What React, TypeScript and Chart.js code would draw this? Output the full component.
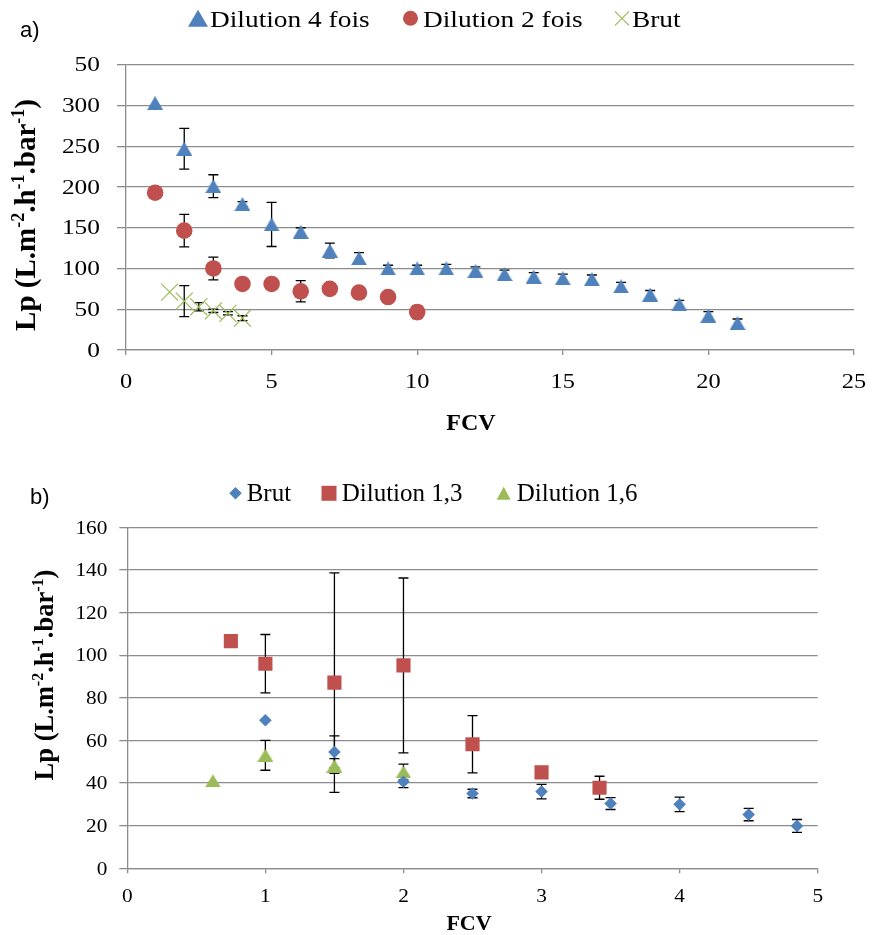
import React, { useEffect, useRef } from 'react';
import { Chart, registerables } from 'chart.js';

Chart.register(...registerables);

// ---------- colours ----------
const BLUE = '#4F81BD';
const RED = '#C0504D';
const GREEN = '#9BBB59';
const GRID = '#8C8C8C';
const SERIF = '"Liberation Serif", "Times New Roman", serif';
const SANS = '"Liberation Sans", Arial, sans-serif';

// ---------- panel a : Lp vs FCV ----------
const fcvD4 = [1, 2, 3, 4, 5, 6, 7, 8, 9, 10, 11, 12, 13, 14, 15, 16, 17, 18, 19, 20, 21];
const lpD4 = [303, 247, 201, 179, 154, 145, 122, 112.5, 100, 100, 100, 97, 93, 90, 88, 87, 78, 68, 56, 42, 33];
const errD4 = [0, 25, 14, 3, 27, 5, 9, 7, 4, 4, 5, 5, 5, 5, 5, 5, 5, 5, 5, 5, 5];

const fcvD2 = [1, 2, 3, 4, 5, 6, 7, 8, 9, 10];
const lpD2 = [193, 146.5, 100, 81, 81, 72, 75, 70.5, 65, 46.5];
const errD2 = [0, 20, 14, 0, 0, 13, 0, 0, 0, 8];

const fcvBrutA = [1.5, 2, 2.5, 3, 3.5, 4];
const lpBrutA = [71, 60, 53, 48, 45, 39];
const errBrutA = [0, 19, 5, 2, 2, 3];

const xTicksA = ['0', '5', '10', '15', '20', '25'];
const yTicksA = ['0', '50', '100', '150', '200', '250', '300', '50'];

// ---------- panel b : Lp vs FCV ----------
const fcvBrutB = [1, 1.5, 2, 2.5, 3, 3.5, 4, 4.5, 4.85];
const lpBrutB = [69.5, 54.6, 40.6, 35.1, 36, 30.4, 30, 25.2, 19.9];
const errBrutB = [0, 7.5, 2.7, 2, 3.4, 2.8, 3.4, 2.9, 3];

const fcvD13 = [0.75, 1, 1.5, 2, 2.5, 3, 3.42];
const lpD13 = [106.6, 96, 87.1, 95.2, 58.2, 45, 37.8];
const errD13 = [0, 13.7, 51.5, 41, 13.4, 0, 5.4];

const fcvD16 = [0.62, 1, 1.5, 2];
const lpD16 = [41, 53, 48, 45.2];
const errD16 = [0, 7, 3.5, 3.7];

const xTicksB = ['0', '1', '2', '3', '4', '5'];
const yTicksB = ['0', '20', '40', '60', '80', '100', '120', '140', '160'];

const pts = (xs: number[], ys: number[]) => xs.map((x, i) => ({ x, y: ys[i] }));

// ---------- small drawing helpers ----------
function stretchedText(ctx: CanvasRenderingContext2D, text: string, x: number, y: number,
  font: string, align: CanvasTextAlign, sx: number) {
  ctx.save();
  ctx.translate(x, y);
  ctx.scale(sx, 1);
  ctx.font = font;
  ctx.textAlign = align;
  ctx.textBaseline = 'alphabetic';
  ctx.fillStyle = '#000';
  ctx.fillText(text, 0, 0);
  ctx.restore();
}

function triangleImage(w: number, h: number, color: string) {
  const c = document.createElement('canvas');
  c.width = w;
  c.height = h;
  const g = c.getContext('2d')!;
  g.fillStyle = color;
  g.beginPath();
  g.moveTo(w / 2, 0);
  g.lineTo(w, h);
  g.lineTo(0, h);
  g.closePath();
  g.fill();
  return c;
}

function drawMarker(ctx: CanvasRenderingContext2D, kind: string, cx: number, cy: number, color: string, s: number, h = s) {
  ctx.save();
  ctx.fillStyle = color;
  ctx.strokeStyle = color;
  ctx.beginPath();
  if (kind === 'triangle') {
    ctx.moveTo(cx, cy - h / 2);
    ctx.lineTo(cx + s / 2, cy + h / 2);
    ctx.lineTo(cx - s / 2, cy + h / 2);
    ctx.closePath();
    ctx.fill();
  } else if (kind === 'circle') {
    ctx.arc(cx, cy, s / 2, 0, Math.PI * 2);
    ctx.fill();
  } else if (kind === 'cross') {
    ctx.lineWidth = 1.2;
    ctx.moveTo(cx - s / 2, cy - s / 2);
    ctx.lineTo(cx + s / 2, cy + s / 2);
    ctx.moveTo(cx + s / 2, cy - s / 2);
    ctx.lineTo(cx - s / 2, cy + s / 2);
    ctx.stroke();
  } else if (kind === 'diamond') {
    ctx.moveTo(cx, cy - s / 2);
    ctx.lineTo(cx + s / 2, cy);
    ctx.lineTo(cx, cy + s / 2);
    ctx.lineTo(cx - s / 2, cy);
    ctx.closePath();
    ctx.fill();
  } else if (kind === 'square') {
    ctx.fillRect(cx - s / 2, cy - s / 2, s, s);
  }
  ctx.restore();
}

type Seg = { t: string; sup?: boolean };
const yTitleSegs: Seg[] = [
  { t: 'Lp (L.m' }, { t: '-2', sup: true }, { t: '.h' }, { t: '-1', sup: true },
  { t: '.bar' }, { t: '-1', sup: true }, { t: ')' },
];

function drawYTitle(ctx: CanvasRenderingContext2D, baseX: number, centerY: number, size: number) {
  ctx.save();
  ctx.translate(baseX, centerY);
  ctx.rotate(-Math.PI / 2);
  ctx.fillStyle = '#000';
  ctx.textBaseline = 'alphabetic';
  ctx.textAlign = 'left';
  const fontOf = (s: Seg) => `bold ${s.sup ? Math.round(size * 0.62) : size}px ${SERIF}`;
  let total = 0;
  const widths = yTitleSegs.map((s) => {
    ctx.font = fontOf(s);
    const w = ctx.measureText(s.t).width;
    total += w;
    return w;
  });
  let x = -total / 2;
  yTitleSegs.forEach((s, i) => {
    ctx.font = fontOf(s);
    ctx.fillText(s.t, x, s.sup ? -size * 0.38 : 0);
    x += widths[i];
  });
  ctx.restore();
}

// Error bars are painted under the markers
const errorBars = {
  id: 'errorBars',
  beforeDatasetsDraw(chart: any) {
    const { ctx } = chart;
    const xs = chart.scales.x;
    const ys = chart.scales.y;
    const cap = 5;
    ctx.save();
    ctx.strokeStyle = '#000';
    ctx.lineWidth = 1.3;
    chart.data.datasets.forEach((ds: any) => {
      const errs: number[] | undefined = ds.errors;
      if (!errs) return;
      ds.data.forEach((p: any, i: number) => {
        const e = errs[i];
        if (!e) return;
        const px = xs.getPixelForValue(p.x);
        const top = ys.getPixelForValue(p.y + e);
        const bot = ys.getPixelForValue(p.y - e);
        ctx.beginPath();
        ctx.moveTo(px, top);
        ctx.lineTo(px, bot);
        ctx.moveTo(px - cap, top);
        ctx.lineTo(px + cap, top);
        ctx.moveTo(px - cap, bot);
        ctx.lineTo(px + cap, bot);
        ctx.stroke();
      });
    });
    ctx.restore();
  },
};

type LegendItem = { kind: string; size: number; h?: number; cx: number; tx: number };
type Decor = {
  panel: string; panelX: number; panelY: number;
  legend: LegendItem[]; legendY: number; legendBase: number; legendFont: number; legendSx: number;
  xTickLabels: string[]; xTickDrop: number; tickFont: number; xTickSx: number;
  yTickLabels: string[]; yTickRight: number; yTickShift: number; yTickSx: number;
  xTitleX: number; xTitleY: number; xTitleSize: number;
  yTitleX: number; yTitleY: number; yTitleSize: number;
};

function decorations(d: Decor) {
  return {
    id: 'decor',
    afterDraw(chart: any) {
      const { ctx, chartArea } = chart;
      const xs = chart.scales.x;
      const ys = chart.scales.y;
      // panel letter
      ctx.save();
      ctx.font = `22px ${SANS}`;
      ctx.fillStyle = '#000';
      ctx.textAlign = 'left';
      ctx.textBaseline = 'alphabetic';
      ctx.fillText(d.panel, d.panelX, d.panelY);
      ctx.restore();
      // legend
      chart.data.datasets.forEach((ds: any, i: number) => {
        const it = d.legend[i];
        drawMarker(ctx, it.kind, it.cx, d.legendY, ds.backgroundColor, it.size, it.h ?? it.size);
        stretchedText(ctx, ds.label, it.tx, d.legendBase, `${d.legendFont}px ${SERIF}`, 'left', d.legendSx);
      });
      // tick labels
      const tf = `${d.tickFont}px ${SERIF}`;
      xs.ticks.forEach((t: any, i: number) => {
        stretchedText(ctx, d.xTickLabels[i] ?? String(t.value), xs.getPixelForValue(t.value),
          chartArea.bottom + d.xTickDrop, tf, 'center', d.xTickSx);
      });
      ys.ticks.forEach((t: any, i: number) => {
        stretchedText(ctx, d.yTickLabels[i] ?? String(t.value), d.yTickRight,
          ys.getPixelForValue(t.value) + d.yTickShift, tf, 'right', d.yTickSx);
      });
      // axis titles
      stretchedText(ctx, 'FCV', d.xTitleX, d.xTitleY, `bold ${d.xTitleSize}px ${SERIF}`, 'center', 1);
      drawYTitle(ctx, d.yTitleX, d.yTitleY, d.yTitleSize);
    },
  };
}

function scales(xMax: number, xStep: number, yMax: number, yStep: number, yWidth: number, xHeight: number, yTick: number) {
  return {
    x: {
      type: 'linear' as const,
      min: 0,
      max: xMax,
      ticks: { stepSize: xStep, display: false },
      grid: { drawOnChartArea: false, drawTicks: true, tickLength: 5, color: GRID, lineWidth: 1.3 },
      border: { display: true, color: GRID, width: 1.3 },
      afterFit: (s: any) => { s.height = xHeight; },
    },
    y: {
      type: 'linear' as const,
      min: 0,
      max: yMax,
      ticks: { stepSize: yStep, display: false },
      grid: { drawTicks: true, tickLength: yTick, color: GRID, lineWidth: 1.3 },
      border: { display: true, color: GRID, width: 1.3 },
      afterFit: (s: any) => { s.width = yWidth; },
    },
  };
}

function PanelA() {
  const ref = useRef<HTMLCanvasElement>(null);
  useEffect(() => {
    const tri = triangleImage(16, 14, BLUE);
    const chart = new Chart(ref.current!, {
      type: 'scatter',
      data: {
        datasets: [
          { label: 'Dilution 4 fois', data: pts(fcvD4, lpD4), errors: errD4, pointStyle: tri,
            backgroundColor: BLUE, borderColor: BLUE, pointRadius: 8 } as any,
          { label: 'Dilution 2 fois', data: pts(fcvD2, lpD2), errors: errD2, pointStyle: 'circle',
            backgroundColor: RED, borderColor: RED, borderWidth: 0, pointRadius: 8.3 } as any,
          { label: 'Brut', data: pts(fcvBrutA, lpBrutA), errors: errBrutA, pointStyle: 'crossRot',
            backgroundColor: GREEN, borderColor: GREEN, borderWidth: 1.2, pointRadius: 12 } as any,
        ],
      },
      options: {
        animation: false,
        responsive: false,
        maintainAspectRatio: false,
        layout: { padding: { top: 64.7, right: 20, left: 0, bottom: 0 } },
        plugins: { legend: { display: false }, tooltip: { enabled: false } },
        scales: scales(25, 5, 350, 50, 126, 100, 9),
      },
      plugins: [errorBars, decorations({
        panel: 'a)', panelX: 20, panelY: 37,
        legend: [
          { kind: 'triangle', size: 20, h: 17, cx: 198, tx: 210 },
          { kind: 'circle', size: 15, cx: 410.5, tx: 423 },
          { kind: 'cross', size: 14, cx: 622, tx: 632 },
        ],
        legendY: 18.3, legendBase: 26.7, legendFont: 23, legendSx: 1.19,
        xTickLabels: xTicksA, xTickDrop: 38.3, tickFont: 20, xTickSx: 1.22,
        yTickLabels: yTicksA, yTickRight: 100, yTickShift: 6.7, yTickSx: 1.27,
        xTitleX: 471, xTitleY: 430, xTitleSize: 24,
        yTitleX: 35, yTitleY: 215, yTitleSize: 29,
      })],
    } as any);
    return () => chart.destroy();
  }, []);
  return <canvas ref={ref} width={874} height={450} style={{ position: 'absolute', left: 0, top: 0, width: 874, height: 450 }} />;
}

function PanelB() {
  const ref = useRef<HTMLCanvasElement>(null);
  useEffect(() => {
    const tri = triangleImage(16, 13, GREEN);
    const chart = new Chart(ref.current!, {
      type: 'scatter',
      data: {
        datasets: [
          { label: 'Brut', data: pts(fcvBrutB, lpBrutB), errors: errBrutB, pointStyle: 'rectRot',
            backgroundColor: BLUE, borderColor: BLUE, borderWidth: 0, pointRadius: 6.3 } as any,
          { label: 'Dilution 1,3', data: pts(fcvD13, lpD13), errors: errD13, pointStyle: 'rect',
            backgroundColor: RED, borderColor: RED, borderWidth: 0, pointRadius: 10 } as any,
          { label: 'Dilution 1,6', data: pts(fcvD16, lpD16), errors: errD16, pointStyle: tri,
            backgroundColor: GREEN, borderColor: GREEN, pointRadius: 8 } as any,
        ],
      },
      options: {
        animation: false,
        responsive: false,
        maintainAspectRatio: false,
        layout: { padding: { top: 77.3, right: 56.3, left: 0, bottom: 0 } },
        plugins: { legend: { display: false }, tooltip: { enabled: false } },
        scales: scales(5, 1, 160, 20, 127.3, 66.7, 8),
      },
      plugins: [errorBars, decorations({
        panel: 'b)', panelX: 30, panelY: 54,
        legend: [
          { kind: 'diamond', size: 12.5, cx: 235.5, tx: 246.7 },
          { kind: 'square', size: 15, cx: 329, tx: 341.7 },
          { kind: 'triangle', size: 14, h: 13, cx: 503.7, tx: 516.7 },
        ],
        legendY: 43.3, legendBase: 51, legendFont: 25, legendSx: 1,
        xTickLabels: xTicksB, xTickDrop: 33.4, tickFont: 18.5, xTickSx: 1.15,
        yTickLabels: yTicksB, yTickRight: 107.3, yTickShift: 6.2, yTickSx: 1.15,
        xTitleX: 469, xTitleY: 480, xTitleSize: 22,
        yTitleX: 53, yTitleY: 225, yTitleSize: 26.5,
      })],
    } as any);
    return () => chart.destroy();
  }, []);
  return <canvas ref={ref} width={874} height={485} style={{ position: 'absolute', left: 0, top: 450, width: 874, height: 485 }} />;
}

export default function App() {
  return (
    <div style={{ position: 'absolute', left: 0, top: 0, width: 874, height: 935, background: '#fff' }}>
      <PanelA />
      <PanelB />
    </div>
  );
}
